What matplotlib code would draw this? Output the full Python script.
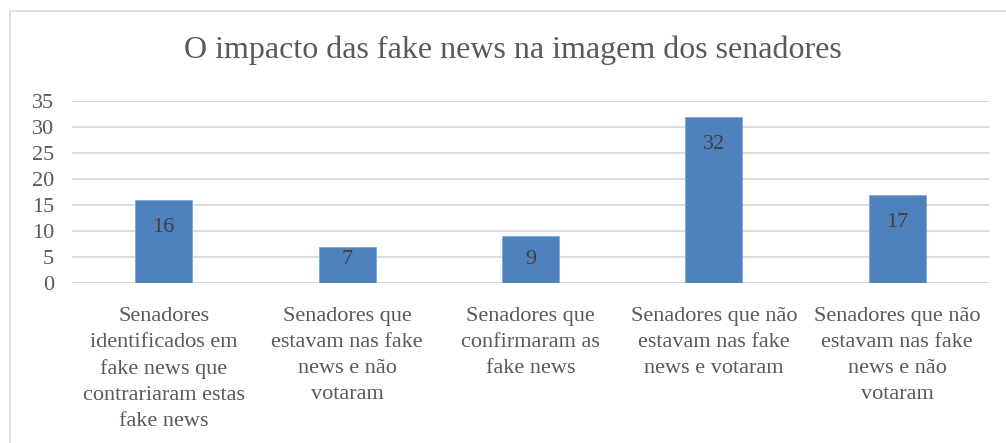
import matplotlib
matplotlib.use("Agg")
import matplotlib.pyplot as plt
from matplotlib.lines import Line2D

categories = [
    "Senadores\nidentificados em\nfake news que\ncontrariaram estas\nfake news",
    "Senadores que\nestavam nas fake\nnews e não\nvotaram",
    "Senadores que\nconfirmaram as\nfake news",
    "Senadores que não\nestavam nas fake\nnews e votaram",
    "Senadores que não\nestavam nas fake\nnews e não\nvotaram",
]
values = [16, 7, 9, 32, 17]
yticks = [0, 5, 10, 15, 20, 25, 30, 35]
title = "O impacto das fake news na imagem dos senadores"

plt.rcParams['font.family'] = ['Liberation Serif', 'DejaVu Serif']
FONT = ['Liberation Serif', 'DejaVu Serif']

W, H = 1006, 443
fig = plt.figure(figsize=(W / 100, H / 100), dpi=100)
text_color = "#595959"
grid_color = "#D9D9D9"
bar_color = "#4F81BD"

# chart border (top and left visible)
fig.add_artist(Line2D([10 / W, 10 / W], [0, 1 - 11 / H], color=grid_color, lw=1.2, transform=fig.transFigure))
fig.add_artist(Line2D([10 / W, 1], [1 - 11 / H, 1 - 11 / H], color=grid_color, lw=1.2, transform=fig.transFigure))

left, right = 72 / W, 989 / W
bottom, top = 1 - 283 / H, 1 - 101 / H
ax = fig.add_axes([left, bottom, right - left, top - bottom])

x = list(range(len(values)))
ax.bar(x, values, width=0.31, color=bar_color, edgecolor="#7FA6D6", linewidth=0.6, zorder=3)
ax.set_xlim(-0.5, len(values) - 0.5)
ax.set_ylim(0, 35)
ax.set_yticks(yticks)
ax.set_yticklabels([str(t) for t in yticks], fontfamily=FONT, fontsize=16, color=text_color)
ax.set_xticks(x)
ax.set_xticklabels(categories, linespacing=1.5, fontfamily=FONT, fontsize=16, color=text_color)
ax.tick_params(axis='both', length=0)
ax.tick_params(axis='y', pad=13)
ax.tick_params(axis='x', pad=17)
for s in ax.spines.values():
    s.set_visible(False)
ax.grid(axis='y', color=grid_color, linewidth=1.3, zorder=0)
ax.set_axisbelow(True)

# data labels: inside end, but not lower than a minimum position
px_per_unit = (283 - 101) / 35
for xi, v in zip(x, values):
    yc = max(v - 28 / px_per_unit, 24 / px_per_unit)
    ax.text(xi, yc, str(v), ha='center', va='center', fontsize=16, color="#404040",
            fontfamily=FONT, zorder=4)

fig.text(513 / W, 1 - 50 / H, title, ha='center', va='center', fontsize=23, color=text_color,
         fontfamily=FONT)

fig.savefig("out.png", dpi=100)
